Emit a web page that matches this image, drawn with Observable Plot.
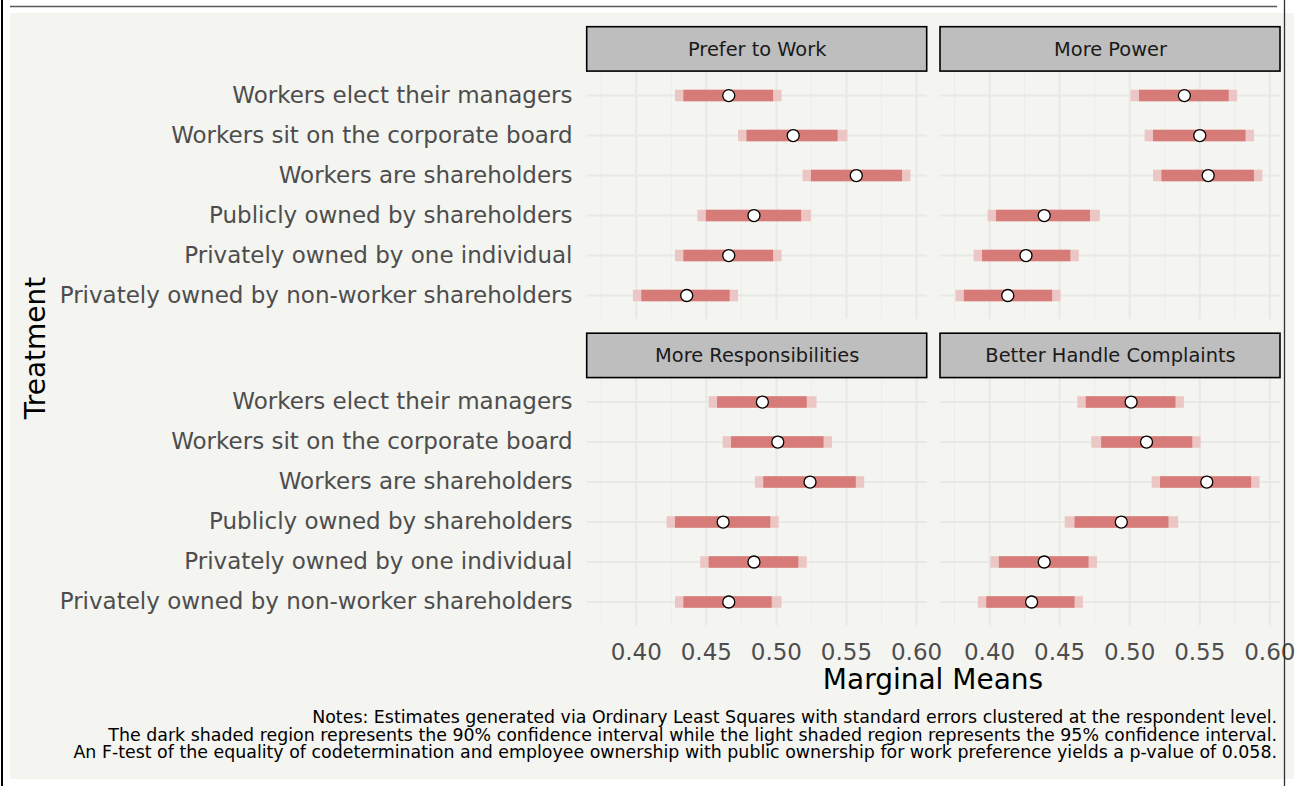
<!DOCTYPE html>
<html>
<head>
<meta charset="utf-8">
<script src="https://cdn.jsdelivr.net/npm/d3@7"></script>
<script src="https://cdn.jsdelivr.net/npm/@observablehq/plot@0.6"></script>
<style>
  html, body { margin: 0; padding: 0; background: #ffffff; }
  #chart { position: relative; width: 1309px; height: 786px; overflow: hidden; }
  #chart svg { position: absolute; left: 0; top: 0; }
</style>
</head>
<body>
<div id="chart"></div>
<script>
// ---- Data ----
const outcomes = ["Prefer to Work", "More Power", "More Responsibilities", "Better Handle Complaints"];
const treatments = [
  "Workers elect their managers",
  "Workers sit on the corporate board",
  "Workers are shareholders",
  "Publicly owned by shareholders",
  "Privately owned by one individual",
  "Privately owned by non-worker shareholders"
];
// one inner array per outcome, in treatment order
const estimate = [
  [0.466, 0.512, 0.557, 0.484, 0.466, 0.436],
  [0.539, 0.550, 0.556, 0.439, 0.426, 0.413],
  [0.490, 0.501, 0.524, 0.462, 0.484, 0.466],
  [0.501, 0.512, 0.555, 0.494, 0.439, 0.430]
];
const lower95 = [
  [0.428, 0.473, 0.519, 0.444, 0.428, 0.398],
  [0.501, 0.511, 0.517, 0.399, 0.389, 0.376],
  [0.452, 0.462, 0.485, 0.422, 0.446, 0.428],
  [0.463, 0.473, 0.516, 0.454, 0.401, 0.392]
];
const lower90 = [
  [0.434, 0.479, 0.525, 0.450, 0.434, 0.404],
  [0.507, 0.517, 0.523, 0.405, 0.395, 0.382],
  [0.458, 0.468, 0.491, 0.428, 0.452, 0.434],
  [0.469, 0.480, 0.522, 0.461, 0.407, 0.398]
];
const upper90 = [
  [0.498, 0.544, 0.590, 0.518, 0.498, 0.467],
  [0.571, 0.583, 0.589, 0.472, 0.458, 0.445],
  [0.522, 0.534, 0.557, 0.496, 0.516, 0.497],
  [0.533, 0.545, 0.587, 0.528, 0.471, 0.461]
];
const upper95 = [
  [0.504, 0.551, 0.596, 0.525, 0.504, 0.473],
  [0.577, 0.589, 0.595, 0.479, 0.464, 0.451],
  [0.529, 0.540, 0.563, 0.502, 0.522, 0.504],
  [0.539, 0.551, 0.593, 0.535, 0.477, 0.467]
];
const xTicks = [0.40, 0.45, 0.50, 0.55, 0.60];
const xMinorTicks = [0.375, 0.425, 0.475, 0.525, 0.575];
const notes = [
  "Notes: Estimates generated via Ordinary Least Squares with standard errors clustered at the respondent level.",
  "The dark shaded region represents the 90% confidence interval while the light shaded region represents the 95% confidence interval.",
  "An F-test of the equality of codetermination and employee ownership with public ownership for work preference yields a p-value of 0.058."
];

// ---- Build table ----
const rows = [];
outcomes.forEach((o, k) => {
  treatments.forEach((t, i) => {
    rows.push({
      outcome: o, col: k % 2, row: Math.floor(k / 2), i,
      est: estimate[k][i], lo95: lower95[k][i], lo90: lower90[k][i],
      hi90: upper90[k][i], hi95: upper95[k][i]
    });
  });
});
const strips = outcomes.map((o, k) => ({outcome: o, col: k % 2, row: Math.floor(k / 2)}));
const rowIndex = treatments.map((t, i) => i);

const xDomain = [0.365, 0.6076];
const yStripTop = -1.71, yPanelTop = -0.6, yPanelBottom = 5.6;

const dark = "#d67b78", light = "#ecc6c4";
const fx = "col", fy = "row";

const chart = Plot.plot({
  width: 1309,
  height: 786,
  marginLeft: 586.7,
  marginRight: 29,
  marginTop: 26.7,
  marginBottom: 160.5,
  style: {background: "transparent", fontFamily: "'DejaVu Sans', sans-serif", overflow: "visible"},
  fx: {axis: null, domain: [0, 1], paddingInner: 0.03765, paddingOuter: 0, round: false},
  fy: {axis: null, domain: [0, 1], paddingInner: 0.0463, paddingOuter: 0, round: false},
  x: {domain: xDomain},
  y: {domain: [yPanelBottom, yStripTop]},
  marks: [
    Plot.ruleX(xMinorTicks, {y1: yPanelTop, y2: yPanelBottom, stroke: "#ecece9", strokeWidth: 1}),
    Plot.ruleX(xTicks, {y1: yPanelTop, y2: yPanelBottom, stroke: "#e8e8e6", strokeWidth: 2}),
    Plot.ruleY(rowIndex, {x1: xDomain[0], x2: xDomain[1], stroke: "#e8e8e6", strokeWidth: 2}),
    Plot.ruleY(rows, {fx, fy, y: "i", x1: "lo95", x2: "hi95", stroke: light, strokeWidth: 11.5}),
    Plot.ruleY(rows, {fx, fy, y: "i", x1: "lo90", x2: "hi90", stroke: dark, strokeWidth: 11.5}),
    Plot.dot(rows, {fx, fy, x: "est", y: "i", r: 6, fill: "white", stroke: "black", strokeWidth: 1.3}),
    Plot.rect(strips, {fx, fy, x1: xDomain[0], x2: xDomain[1], y1: yStripTop, y2: yPanelTop, fill: "#bebebe", stroke: "black", strokeWidth: 1.6}),
    Plot.text(strips, {fx, fy, x: (xDomain[0] + xDomain[1]) / 2, y: (yStripTop + yPanelTop) / 2, text: "outcome", fontSize: 19.4, fill: "#1a1a1a"}),
    Plot.axisY({ticks: rowIndex, tickFormat: (i) => treatments[i], tickSize: 0, tickPadding: 14.7, fontSize: 23, color: "#4d4d4d", label: null}),
    Plot.axisX({ticks: xTicks, tickFormat: d3.format(".2f"), tickSize: 0, tickPadding: 18, fontSize: 23, color: "#4d4d4d", label: null})
  ]
});

document.getElementById("chart").appendChild(chart);

// ---- Page decorations, titles and notes ----
const svg = d3.select(chart);
svg.insert("rect", ":first-child")
  .attr("x", 10).attr("y", 13).attr("width", 1284).attr("height", 766)
  .attr("fill", "#f4f4f0");

svg.append("text")
  .attr("transform", "translate(45,348) rotate(-90)")
  .attr("text-anchor", "middle")
  .attr("font-size", 28).attr("fill", "#000")
  .text("Treatment");

svg.append("text")
  .attr("x", 933).attr("y", 689)
  .attr("text-anchor", "middle")
  .attr("font-size", 28).attr("fill", "#000")
  .text("Marginal Means");

svg.append("g")
  .attr("font-size", 17.4).attr("fill", "#000").attr("text-anchor", "end")
  .selectAll("text").data(notes).join("text")
  .attr("x", 1277).attr("y", (d, j) => 723 + j * 17.6)
  .text(d => d);

svg.append("line").attr("x1", 10).attr("x2", 1277).attr("y1", 6.5).attr("y2", 6.5)
  .attr("stroke", "#5a5a5a").attr("stroke-width", 1.5);
svg.append("line").attr("x1", 2).attr("x2", 2).attr("y1", 0).attr("y2", 786)
  .attr("stroke", "#000").attr("stroke-width", 2);
svg.append("line").attr("x1", 1284.5).attr("x2", 1284.5).attr("y1", 0).attr("y2", 786)
  .attr("stroke", "#333").attr("stroke-width", 1.3);
</script>
</body>
</html>
